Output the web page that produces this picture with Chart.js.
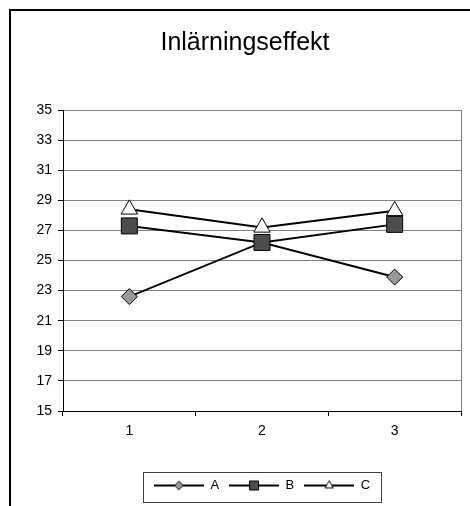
<!DOCTYPE html>
<html>
<head>
<meta charset="utf-8">
<title>Inlärningseffekt</title>
<script src="https://cdn.jsdelivr.net/npm/chart.js@4/dist/chart.umd.min.js"></script>
<style>
  html, body { margin: 0; padding: 0; background: #fff; overflow: hidden; }
  canvas { display: block; }
</style>
</head>
<body>
<canvas id="chart" width="470" height="506"></canvas>
<script>
// Session numbers on the x axis
const categories = ['1', '2', '3'];

// Scores per group and session
const seriesA = [22.6, 26.2, 23.9];
const seriesB = [27.3, 26.2, 27.4];
const seriesC = [28.4, 27.2, 28.3];

// Y axis range and tick step
const yMin = 15;
const yMax = 35;
const yStep = 2;

const FONT = "'Liberation Sans', Arial, Helvetica, sans-serif";

// Marker styles per series
const markers = {
  A: { style: 'rectRot', radius: 8, legendRadius: 4.3, fill: '#999999' },
  B: { style: 'rect', radius: 11.3, legendRadius: 6.4, fill: '#4d4d4d' },
  C: { style: 'triangle', radius: 9.5, legendRadius: 4.8, fill: '#ffffff' }
};

// Small canvas for each legend entry: a line with the marker in the middle
function legendIcon(m) {
  const c = document.createElement('canvas');
  c.width = 50; c.height = 16;
  const ctx = c.getContext('2d');
  ctx.strokeStyle = '#000';
  ctx.lineWidth = 2;
  ctx.beginPath();
  ctx.moveTo(0, 8); ctx.lineTo(50, 8);
  ctx.stroke();
  ctx.fillStyle = m.fill;
  ctx.strokeStyle = '#000';
  ctx.lineWidth = 1;
  Chart.helpers.drawPoint(ctx, { pointStyle: m.style, radius: m.legendRadius, borderWidth: 1, rotation: 0 }, 25, 8);
  return c;
}

function makeDataset(label, values, m, order) {
  return {
    label: label,
    data: values,
    order: order,
    borderColor: '#000000',
    borderWidth: 2,
    tension: 0,
    fill: false,
    pointStyle: m.style,
    pointRadius: m.radius,
    pointHoverRadius: m.radius,
    pointBackgroundColor: m.fill,
    pointBorderColor: '#000000',
    pointBorderWidth: 1
  };
}

// Outer frame, plot border, title centring and legend box
const decorations = {
  id: 'decorations',
  afterLayout(chart) {
    // centre the title over the framed area
    const t = chart.titleBlock;
    if (t) {
      const centre = 245;
      t.left = 2 * centre - t.right;
      t.width = t.right - t.left;
    }
  },
  beforeDraw(chart) {
    const ctx = chart.ctx;
    ctx.save();
    ctx.fillStyle = '#fff';
    ctx.fillRect(0, 0, chart.width, chart.height);
    ctx.fillStyle = '#000';
    ctx.fillRect(9, 9, chart.width, 2);
    ctx.fillRect(9, 9, 2, chart.height);
    ctx.restore();
  },
  beforeDatasetsDraw(chart) {
    const { ctx, chartArea } = chart;
    ctx.save();
    ctx.strokeStyle = '#808080';
    ctx.lineWidth = 1;
    ctx.beginPath();
    const x = Math.round(chartArea.right) + 0.5;
    ctx.moveTo(x, chartArea.top);
    ctx.lineTo(x, chartArea.bottom);
    ctx.stroke();
    ctx.restore();
  },
  afterDraw(chart) {
    const legend = chart.legend;
    if (!legend || !legend.legendHitBoxes.length) return;
    const boxes = legend.legendHitBoxes;
    const first = boxes[0];
    const last = boxes[boxes.length - 1];
    const cy = first.top + first.height / 2;
    const left = Math.round(first.left - 11) + 0.5;
    const right = Math.round(last.left + last.width + 11) + 0.5;
    const top = Math.round(cy - 14) + 0.5;
    const bottom = Math.round(cy + 16) + 0.5;
    const ctx = chart.ctx;
    ctx.save();
    ctx.strokeStyle = '#404040';
    ctx.lineWidth = 1;
    ctx.strokeRect(left, top, right - left, bottom - top);
    ctx.restore();
  }
};

new Chart(document.getElementById('chart'), {
  type: 'line',
  data: {
    labels: categories,
    datasets: [
      makeDataset('A', seriesA, markers.A, 2),
      makeDataset('B', seriesB, markers.B, 1),
      makeDataset('C', seriesC, markers.C, 0)
    ]
  },
  options: {
    responsive: false,
    animation: false,
    devicePixelRatio: 1,
    events: [],
    layout: {
      autoPadding: false,
      padding: { left: 10, right: 9, top: 10, bottom: 4 }
    },
    plugins: {
      title: {
        display: true,
        text: 'Inlärningseffekt',
        color: '#000',
        font: { family: FONT, size: 25, weight: 'normal' },
        padding: { top: 18, bottom: 52 }
      },
      legend: {
        display: true,
        position: 'bottom',
        fullSize: false,
        labels: {
          color: '#000',
          font: { family: FONT, size: 13 },
          usePointStyle: true,
          pointStyleWidth: 50,
          padding: 10,
          sort: (a, b) => a.datasetIndex - b.datasetIndex,
          generateLabels(chart) {
            return chart.data.datasets.map((ds, i) => ({
              text: ds.label,
              datasetIndex: i,
              pointStyle: legendIcon(markers[ds.label]),
              fillStyle: ds.pointBackgroundColor,
              strokeStyle: '#000',
              lineWidth: 0,
              hidden: false,
              fontColor: '#000'
            }));
          }
        }
      },
      tooltip: { enabled: false }
    },
    scales: {
      x: {
        type: 'category',
        offset: true,
        afterFit(scale) {
          scale.height = 58;
          scale.paddingLeft = 0;
          scale.paddingRight = 0;
        },
        grid: {
          display: true,
          offset: true,
          drawOnChartArea: false,
          drawTicks: true,
          tickLength: 5,
          tickColor: '#000'
        },
        border: { display: true, color: '#000', width: 1 },
        ticks: {
          color: '#000',
          font: { family: FONT, size: 14 },
          padding: 7,
          maxRotation: 0
        }
      },
      y: {
        min: yMin,
        max: yMax,
        afterFit(scale) { scale.width = 53; },
        grid: {
          color: '#808080',
          lineWidth: 1,
          drawTicks: true,
          tickLength: 5,
          tickColor: '#000'
        },
        border: { display: true, color: '#000', width: 1 },
        ticks: {
          stepSize: yStep,
          color: '#000',
          font: { family: FONT, size: 14 },
          padding: 6
        }
      }
    }
  },
  plugins: [decorations]
});
</script>
</body>
</html>
